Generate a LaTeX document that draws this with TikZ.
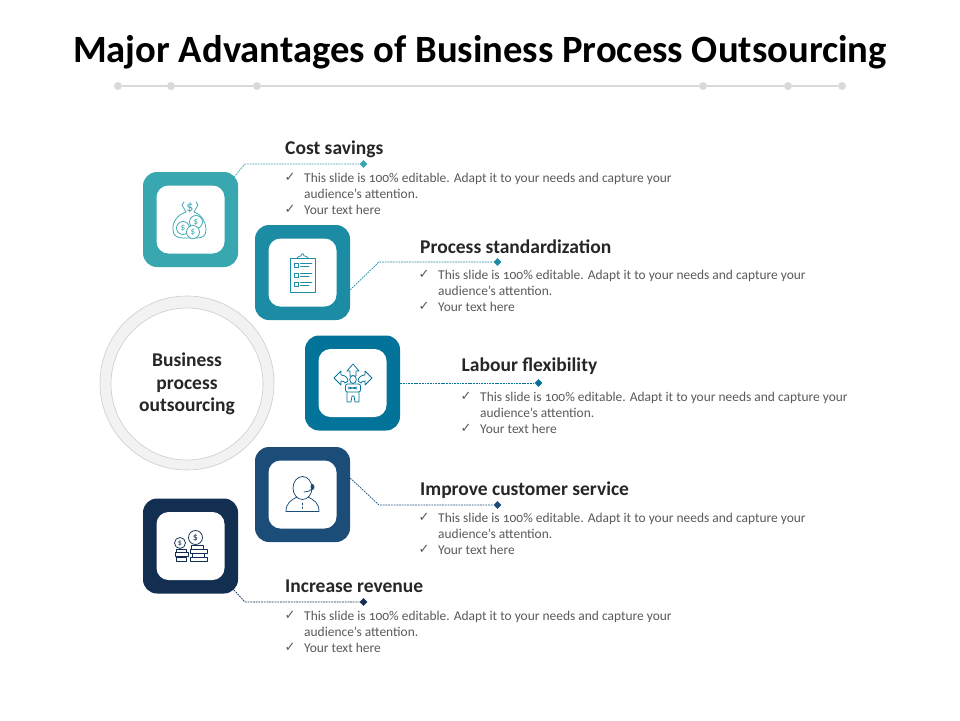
\documentclass[tikz,border=0pt]{standalone}
\usepackage{fontspec}
\setmainfont[Numbers=OldStyle]{Carlito}
\newfontfamily\checkfont{DejaVu Sans}
\usetikzlibrary{shapes.geometric}
\definecolor{costcol}{HTML}{38A7AF}
\definecolor{stdcol}{HTML}{1C8CA5}
\definecolor{labourcol}{HTML}{04739A}
\definecolor{servicecol}{HTML}{1C4C78}
\definecolor{revenuecol}{HTML}{122F52}
\definecolor{bodycol}{HTML}{595959}
\definecolor{headcol}{HTML}{262626}
\tikzset{
  iconbox/.style={rectangle, rounded corners=14pt, minimum size=95pt, inner sep=0pt},
  iconhole/.style={rectangle, rounded corners=12pt, minimum size=68pt, inner sep=0pt, fill=white},
  headtext/.style={anchor=west, inner sep=0pt, text=headcol, font=\fontsize{19.5}{23}\selectfont\bfseries},
  bodytext/.style={anchor=west, inner sep=0pt, align=left, text=bodycol, font=\fontsize{13.45}{16}\selectfont},
  checktext/.style={anchor=center, inner sep=0pt, text=bodycol, font=\fontsize{13}{13}\checkfont},
  linkline/.style={line width=0.7pt, dash pattern=on 1.8pt off 0.9pt},
  linkdot/.style={diamond, minimum size=8pt, inner sep=0pt},
  ruledot/.style={circle, minimum size=8pt, inner sep=0pt, fill=black!15},
  iconline/.style={line width=0.75pt, line join=round, line cap=round},
}
\begin{document}
\begin{tikzpicture}[x=1pt, y=-1pt]
\useasboundingbox (0,0) rectangle (960,720);

% title
\node[inner sep=0pt, font=\fontsize{38.6}{44}\selectfont\bfseries] (title) at (480,52) {Major Advantages of Business Process Outsourcing};
\foreach \name/\xpos in {ruleA/118, ruleB/171, ruleC/257, ruleD/703, ruleE/788, ruleF/842}
  \node[ruledot] (\name) at (\xpos,86) {};
\draw[black!15, line width=1.6pt] (ruleA) -- (ruleB) -- (ruleC) -- (ruleD) -- (ruleE) -- (ruleF);

% centre circle
\node[circle, minimum size=174pt, inner sep=0pt, fill=black!5, draw=black!20, line width=0.6pt] (ringouter) at (187,383) {};
\node[circle, minimum size=152pt, inner sep=0pt, fill=white, draw=black!20, line width=0.6pt, align=center, text=headcol, font=\fontsize{19.5}{22.7}\selectfont\bfseries] (ringinner) at (187,384) {Business\\process\\outsourcing};

% boxes
\node[iconbox, fill=costcol]    (costbox)    at (190.5,219.5) {};
\node[iconbox, fill=stdcol]     (stdbox)     at (302.5,272.5) {};
\node[iconbox, fill=labourcol]  (labourbox)  at (352.5,383)   {};
\node[iconbox, fill=servicecol] (servicebox) at (302.5,494.5) {};
\node[iconbox, fill=revenuecol] (revenuebox) at (190.5,546)   {};
\node[iconhole] (costhole)    at (costbox.center)    {};
\node[iconhole] (stdhole)     at (stdbox.center)     {};
\node[iconhole] (labourhole)  at (labourbox.center)  {};
\node[iconhole] (servicehole) at (servicebox.center) {};
\node[iconhole] (revenuehole) at (revenuebox.center) {};

% connectors
\node[linkdot, fill=costcol]    (costdot)    at (363.5,164) {};
\node[linkdot, fill=stdcol]     (stddot)     at (497.5,262) {};
\node[linkdot, fill=labourcol]  (labourdot)  at (538.5,383) {};
\node[linkdot, fill=servicecol] (servicedot) at (497.5,505) {};
\node[linkdot, fill=revenuecol] (revenuedot) at (363.5,602) {};
\coordinate (costfoot)    at (234,177);
\coordinate (costbend)    at (245,164);
\coordinate (stdbend)     at (379,262);
\coordinate (servicebend) at (379,505);
\coordinate (revenuefoot) at (234,590);
\coordinate (revenuebend) at (245,602);
\draw[linkline, costcol]    (costfoot) -- (costbend) -- (costdot);
\draw[linkline, stdcol]     (stdbox.-20) -- (stdbend) -- (stddot);
\draw[linkline, labourcol]  (labourbox.east) -- (labourdot);
\draw[linkline, servicecol] (servicebox.19) -- (servicebend) -- (servicedot);
\draw[linkline, revenuecol] (revenuefoot) -- (revenuebend) -- (revenuedot);

% cost savings
\node[headtext] (costhead) at (285,149) {Cost savings};
\node[checktext] (costcheckA) at (290,177) {✓};
\node[bodytext] (costtextA) at (304,186) {This slide is 100\% editable. Adapt it to your needs and capture your\\audience's attention.};
\node[checktext] (costcheckB) at (290,209) {✓};
\node[bodytext] (costtextB) at (304,210) {Your text here};

% process standardization
\node[headtext] (stdhead) at (420,247) {Process standardization};
\node[checktext] (stdcheckA) at (424,274) {✓};
\node[bodytext] (stdtextA) at (438,283) {This slide is 100\% editable. Adapt it to your needs and capture your\\audience's attention.};
\node[checktext] (stdcheckB) at (424,306) {✓};
\node[bodytext] (stdtextB) at (438,307) {Your text here};

% labour flexibility
\node[headtext] (labourhead) at (461.5,366) {Labour flexibility};
\node[checktext] (labourcheckA) at (466,396) {✓};
\node[bodytext] (labourtextA) at (480,405) {This slide is 100\% editable. Adapt it to your needs and capture your\\audience's attention.};
\node[checktext] (labourcheckB) at (466,428) {✓};
\node[bodytext] (labourtextB) at (480,429) {Your text here};

% improve customer service
\node[headtext] (servicehead) at (420,490) {Improve customer service};
\node[checktext] (servicecheckA) at (424,517) {✓};
\node[bodytext] (servicetextA) at (438,526) {This slide is 100\% editable. Adapt it to your needs and capture your\\audience's attention.};
\node[checktext] (servicecheckB) at (424,549) {✓};
\node[bodytext] (servicetextB) at (438,550) {Your text here};

% increase revenue
\node[headtext] (revenuehead) at (285,586) {Increase revenue};
\node[checktext] (revenuecheckA) at (290,615) {✓};
\node[bodytext] (revenuetextA) at (304,624) {This slide is 100\% editable. Adapt it to your needs and capture your\\audience's attention.};
\node[checktext] (revenuecheckB) at (290,647) {✓};
\node[bodytext] (revenuetextB) at (304,648) {Your text here};

% icon: money bag
\begin{scope}[iconline, costcol]
\draw (186,212) .. controls (176,215) and (172,224) .. (173,230) .. controls (173,236) and (178,238) .. (183,238) -- (197,238) .. controls (202,238) and (206,236) .. (206,230) .. controls (206,224) and (203,215) .. (194,212);
\draw (186,212) -- (182,205) -- (184,202);
\draw (194,212) -- (198,205) -- (196,202);
\node[inner sep=0pt, font=\fontsize{14}{14}\selectfont] (bagsign) at (190,207.5) {\$};
\foreach \xpos/\ypos/\name in {183/228/coinA, 196/222/coinB, 193/232/coinC}
  \node[circle, draw=costcol, line width=0.75pt, fill=white, minimum size=13pt, inner sep=0pt, font=\fontsize{9}{9}\selectfont, text=costcol] (\name) at (\xpos,\ypos) {\$};
\end{scope}

% icon: clipboard
\begin{scope}[iconline, stdcol]
\draw (290,258) rectangle (315.5,292);
\draw (297,258) .. controls (298,256) and (300,256) .. (301,256) .. controls (301,253) and (304,253) .. (304,256) .. controls (305,256) and (307,256) .. (308,258);
\foreach \ypos in {265,275,284} {
  \draw (294,\ypos-2) rectangle (298.5,\ypos+2);
  \draw (300.5,\ypos-1.5) -- (312,\ypos-1.5);
  \draw (300.5,\ypos+1.5) -- (309,\ypos+1.5);
}
\end{scope}

% icon: person with arrows
\begin{scope}[iconline, labourcol]
\draw (353,364) -- (347,371) -- (350,371) -- (350,376) -- (356,376) -- (356,371) -- (359,371) -- cycle;
\draw (334,378) -- (341,371) -- (341,375) .. controls (345,375) and (348,378) .. (348,381) -- (345,383) .. controls (345,382) and (343,381) .. (341,381) -- (341,385) -- cycle;
\draw (372,378) -- (365,371) -- (365,375) .. controls (361,375) and (358,378) .. (358,381) -- (361,383) .. controls (361,382) and (363,381) .. (365,381) -- (365,385) -- cycle;
\draw[fill=white] (353,379.5) ellipse (3.3 and 4);
\draw[fill=white, rounded corners=2pt] (345.5,384) rectangle (360.5,392);
\draw (348,387) -- (357,389);
\draw (348,389) -- (357,387);
\draw (347,392) -- (347,402) -- (351,402) -- (352,396) -- (354,396) -- (355,402) -- (359,402) -- (359,392);
\end{scope}

% icon: headset person
\begin{scope}[iconline, servicecol]
\draw (286,511.5) .. controls (286,503) and (291,500) .. (297,497) -- (308,497) .. controls (314,500) and (319,503) .. (319,511.5) -- cycle;
\draw[fill=white] (302.5,488) ellipse (9.5 and 11.5);
\draw (302,503) -- (302,505);
\draw (302,507) -- (302,508.5);
\draw (304,492) .. controls (307,492) and (310,491) .. (312,489);
\draw[fill=servicecol] (312.5,487) ellipse (1.5 and 2.5);
\end{scope}

% icon: coin stacks
\begin{scope}[iconline, revenuecol]
\foreach \name/\xpos/\ypos/\coinsize/\signsize in {stackA/180/543/11/8, stackB/195.5/537.5/14/10}
  \node[circle, draw=revenuecol, line width=0.75pt, minimum size=\coinsize pt, inner sep=0pt, font=\fontsize{\signsize}{\signsize}\selectfont, text=revenuecol] (\name) at (\xpos,\ypos) {\$};
\draw (176,549) rectangle (186,552);
\draw (175,552.5) rectangle (188,556.5);
\draw (176,557) rectangle (186,561);
\draw (191,545) rectangle (203,549);
\draw (190,549) rectangle (207,553);
\draw (192,553) rectangle (204,557);
\draw (190,557) rectangle (207,561.5);
\end{scope}
\end{tikzpicture}
\end{document}
